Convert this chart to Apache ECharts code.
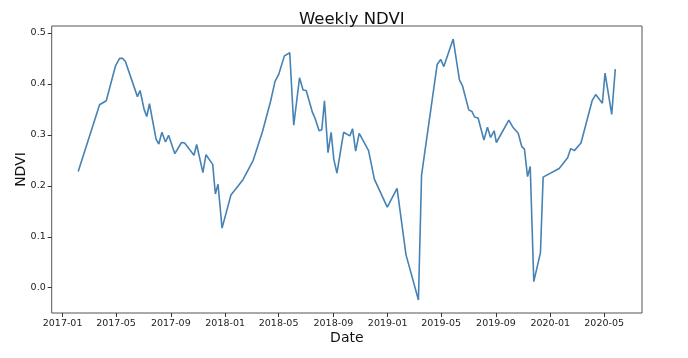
<!DOCTYPE html>
<html>
<head>
<meta charset="utf-8">
<script src="https://cdn.jsdelivr.net/npm/echarts@6/dist/echarts.min.js"></script>
<style>
html,body{margin:0;padding:0;background:#fff;}
#chart{width:688px;height:358px;}
</style>
</head>
<body>
<div id="chart"></div>
<script>
// ---- data ----
const dates = [
'2017-02-05','2017-03-25','2017-04-09','2017-04-30','2017-05-09','2017-05-16','2017-05-22',
'2017-06-18','2017-06-24','2017-07-03','2017-07-09','2017-07-15','2017-07-30','2017-08-05',
'2017-08-12','2017-08-20','2017-08-27','2017-09-10','2017-09-25','2017-10-02','2017-10-23',
'2017-10-29','2017-11-12','2017-11-19','2017-12-04','2017-12-10','2017-12-16','2017-12-25',
'2018-01-14','2018-02-10','2018-03-05','2018-03-26','2018-04-13','2018-04-23','2018-05-01',
'2018-05-14','2018-05-26','2018-06-04','2018-06-17','2018-06-25','2018-07-02','2018-07-16',
'2018-07-22','2018-07-31','2018-08-06','2018-08-12','2018-08-20','2018-08-27','2018-09-02',
'2018-09-09','2018-09-24','2018-10-08','2018-10-14','2018-10-21','2018-10-29','2018-11-19',
'2018-12-02','2018-12-31','2019-01-22','2019-02-11','2019-03-11','2019-03-18','2019-04-22',
'2019-04-30','2019-05-07','2019-05-28','2019-06-11','2019-06-18','2019-07-02','2019-07-09',
'2019-07-15','2019-07-23','2019-08-05','2019-08-13','2019-08-20','2019-08-28','2019-09-02',
'2019-09-30','2019-10-09','2019-10-21','2019-10-29','2019-11-04','2019-11-11','2019-11-17',
'2019-11-25','2019-12-10','2019-12-16','2020-01-21','2020-02-09','2020-02-16','2020-02-24',
'2020-03-10','2020-04-04','2020-04-12','2020-04-27','2020-05-03','2020-05-18','2020-05-26'
];
const ndvi = [
0.228,0.359,0.367,0.436,0.450,0.450,0.444,
0.375,0.387,0.350,0.336,0.361,0.291,0.282,
0.305,0.286,0.299,0.263,0.285,0.284,0.260,
0.281,0.226,0.261,0.242,0.184,0.203,0.117,
0.182,0.212,0.250,0.307,0.366,0.405,0.418,
0.455,0.461,0.319,0.412,0.388,0.387,0.344,
0.332,0.308,0.310,0.367,0.265,0.305,0.252,
0.225,0.305,0.298,0.312,0.268,0.303,0.269,
0.213,0.158,0.195,0.065,-0.024,0.221,0.438,
0.448,0.434,0.488,0.408,0.396,0.349,0.346,
0.335,0.333,0.290,0.315,0.295,0.308,0.285,
0.329,0.315,0.303,0.277,0.272,0.218,0.238,
0.012,0.069,0.217,0.234,0.255,0.273,0.269,
0.284,0.367,0.379,0.362,0.421,0.340,0.429
];
const xTickLabels = ['2017-01','2017-05','2017-09','2018-01','2018-05','2018-09','2019-01','2019-05','2019-09','2020-01','2020-05'];
const yTickLabels = ['0.0','0.1','0.2','0.3','0.4','0.5'];
const titleText = 'Weekly NDVI';
const xName = 'Date';
const yName = 'NDVI';

// ---- helpers ----
function toUTC(s){
  const p = s.split('-').map(Number);
  return Date.UTC(p[0], p[1]-1, p.length > 2 ? p[2] : 1);
}
const seriesData = dates.map((d,i) => [toUTC(d), ndvi[i]]);
const xTicks = xTickLabels.map(toUTC);
const yTicks = yTickLabels.map(Number);
const xMin = Date.UTC(2016, 11, 7, 12);
const xMax = Date.UTC(2020, 6, 25);
const yMin = -0.0496, yMax = 0.5136;

const chart = echarts.init(document.getElementById('chart'), null, {renderer:'canvas'});
const textColor = '#222';
const font = 'DejaVu Sans';
chart.setOption({
  animation: false,
  backgroundColor: '#fff',
  title: {
    text: titleText,
    left: 346.8, top: 6, textAlign: 'center',
    textStyle: {fontFamily: font, fontSize: 16.5, fontWeight: 'normal', color: '#111'}
  },
  grid: {
    left: 51.7, right: 46, top: 26, bottom: 45,
    show: true, borderColor: '#555', borderWidth: 1, backgroundColor: 'transparent'
  },
  xAxis: {
    type: 'value', min: xMin, max: xMax, scale: true,
    name: xName, nameLocation: 'middle', nameGap: 18, nameMoveOverlap: false,
    nameTextStyle: {fontFamily: font, fontSize: 14, color: '#111'},
    axisLine: {show: false, onZero: false},
    splitLine: {show: false},
    axisTick: {show: true, customValues: xTicks, length: 4, lineStyle: {color: '#333', width: 1}},
    axisLabel: {
      customValues: xTicks, margin: 6, fontFamily: font, fontSize: 9.5, color: textColor,
      formatter: function(v){ const i = xTicks.indexOf(v); return i >= 0 ? xTickLabels[i] : ''; }
    }
  },
  yAxis: {
    type: 'value', min: yMin, max: yMax,
    name: yName, nameLocation: 'middle', nameGap: 23, nameRotate: 90, nameMoveOverlap: false,
    nameTextStyle: {fontFamily: font, fontSize: 14, color: '#111'},
    axisLine: {show: false, onZero: false},
    splitLine: {show: false},
    axisTick: {show: true, customValues: yTicks, length: 4, lineStyle: {color: '#333', width: 1}},
    axisLabel: {
      customValues: yTicks, margin: 6, fontFamily: font, fontSize: 9.5, color: textColor,
      formatter: function(v){ return Number(v).toFixed(1); }
    }
  },
  series: [{
    type: 'line',
    data: seriesData,
    showSymbol: false,
    symbol: 'none',
    lineStyle: {color: '#4682b4', width: 1.6},
    itemStyle: {color: '#4682b4'}
  }]
});
</script>
</body>
</html>
